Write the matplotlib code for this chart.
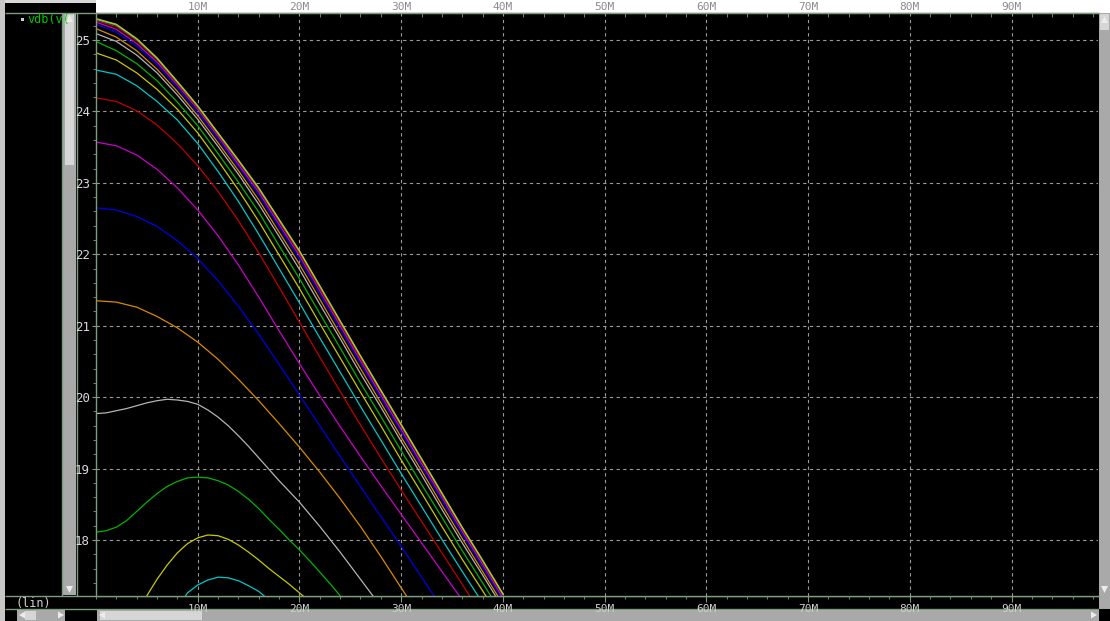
import numpy as np
import matplotlib
matplotlib.use("Agg")
import matplotlib.pyplot as plt
from matplotlib.patches import Rectangle, Polygon
from matplotlib.ticker import MultipleLocator, FixedLocator, FuncFormatter

# frequency grids in MHz
freq = list(range(0, 41, 2))
freq_fine = list(range(0, 41, 1))

# lower curves (1 MHz steps), dB
vdb_cyan_1 = [15.90, 15.92, 15.98, 16.08, 16.22, 16.40, 16.60, 16.85, 17.05, 17.26,
              17.37, 17.44, 17.48, 17.47, 17.43, 17.36, 17.28, 17.16, 17.05, 16.93,
              16.80, 16.68, 16.56, 16.44, 16.32, 16.20, 16.08, 15.96, 15.84, 15.72,
              15.60, 15.48, 15.36, 15.24, 15.12, 15.00, 14.88, 14.76, 14.64, 14.52, 14.40]
vdb_yellow_2 = [16.55, 16.58, 16.65, 16.78, 16.98, 17.22, 17.45, 17.65, 17.82, 17.95,
                18.03, 18.07, 18.06, 18.01, 17.93, 17.83, 17.72, 17.60, 17.49, 17.38,
                17.26, 17.14, 17.02, 16.90, 16.78, 16.66, 16.54, 16.42, 16.30, 16.18,
                16.06, 15.94, 15.82, 15.70, 15.58, 15.46, 15.34, 15.22, 15.10, 14.98, 14.86]
vdb_green_3 = [18.11, 18.13, 18.18, 18.27, 18.40, 18.53, 18.65, 18.75, 18.82, 18.87,
               18.88, 18.87, 18.83, 18.77, 18.68, 18.57, 18.44, 18.29, 18.15, 18.00,
               17.86, 17.71, 17.55, 17.39, 17.22, 17.06, 16.90, 16.74, 16.58, 16.42,
               16.26, 16.10, 15.94, 15.78, 15.62, 15.46, 15.30, 15.14, 14.98, 14.82, 14.66]
vdb_gray_4 = [19.77, 19.78, 19.81, 19.84, 19.88, 19.92, 19.95, 19.97, 19.96, 19.94,
              19.90, 19.82, 19.72, 19.60, 19.46, 19.31, 19.15, 18.99, 18.83, 18.68,
              18.53, 18.36, 18.19, 18.01, 17.83, 17.64, 17.45, 17.26, 17.07, 16.88,
              16.69, 16.50, 16.31, 16.12, 15.93, 15.74, 15.55, 15.36, 15.17, 14.98, 14.79]

# upper curves (2 MHz steps), dB
vdb_orange_5 = [21.35, 21.33, 21.26, 21.13, 20.97, 20.77, 20.53, 20.25, 19.95, 19.63, 19.30,
                18.95, 18.58, 18.19, 17.77, 17.33, 16.90, 16.48, 16.06, 15.64, 15.22]
vdb_blue_6 = [22.65, 22.62, 22.53, 22.39, 22.19, 21.94, 21.63, 21.27, 20.88, 20.46, 20.03,
              19.60, 19.17, 18.75, 18.33, 17.91, 17.48, 17.05, 16.62, 16.20, 15.78]
vdb_magenta_7 = [23.57, 23.52, 23.39, 23.19, 22.93, 22.62, 22.26, 21.85, 21.40, 20.93, 20.47,
                 20.02, 19.59, 19.17, 18.76, 18.36, 17.96, 17.56, 17.16, 16.76, 16.36]
vdb_red_8 = [24.19, 24.14, 24.01, 23.81, 23.55, 23.24, 22.88, 22.47, 22.02, 21.54, 21.05,
             20.56, 20.08, 19.61, 19.15, 18.70, 18.26, 17.82, 17.38, 16.94, 16.50]
vdb_cyan_9 = [24.58, 24.52, 24.36, 24.14, 23.88, 23.55, 23.16, 22.74, 22.28, 21.80, 21.32,
              20.83, 20.35, 19.87, 19.40, 18.93, 18.47, 18.01, 17.56, 17.12, 16.68]
vdb_yellow_10 = [24.82, 24.72, 24.54, 24.31, 24.03, 23.70, 23.31, 22.90, 22.46, 21.99, 21.52,
                 21.03, 20.55, 20.07, 19.60, 19.12, 18.66, 18.19, 17.73, 17.29, 16.84]
vdb_green_11 = [24.98, 24.85, 24.67, 24.43, 24.13, 23.80, 23.41, 23.01, 22.59, 22.12, 21.66,
                21.17, 20.69, 20.20, 19.73, 19.25, 18.78, 18.32, 17.85, 17.40, 16.95]
vdb_gray_12 = [25.09, 24.98, 24.79, 24.54, 24.23, 23.89, 23.51, 23.12, 22.70, 22.25, 21.79,
               21.30, 20.82, 20.33, 19.86, 19.38, 18.91, 18.43, 17.96, 17.51, 17.05]
vdb_orange_13 = [25.16, 25.04, 24.85, 24.59, 24.28, 23.94, 23.56, 23.17, 22.76, 22.31, 21.86,
                 21.37, 20.88, 20.40, 19.92, 19.44, 18.97, 18.49, 18.02, 17.56, 17.10]
vdb_blue_14 = [25.22, 25.11, 24.91, 24.65, 24.33, 23.98, 23.61, 23.23, 22.83, 22.38, 21.93,
               21.44, 20.95, 20.47, 19.99, 19.51, 19.03, 18.56, 18.08, 17.62, 17.16]
vdb_magenta_15 = [25.25, 25.15, 24.95, 24.69, 24.37, 24.03, 23.65, 23.26, 22.87, 22.42, 21.98,
                  21.49, 21.00, 20.51, 20.03, 19.55, 19.07, 18.60, 18.12, 17.66, 17.19]
vdb_red_16 = [25.27, 25.19, 24.99, 24.72, 24.39, 24.05, 23.67, 23.29, 22.90, 22.46, 22.01,
              21.52, 21.03, 20.54, 20.07, 19.59, 19.11, 18.63, 18.15, 17.69, 17.22]
vdb_cyan_17 = [25.29, 25.21, 25.01, 24.74, 24.41, 24.07, 23.69, 23.31, 22.92, 22.48, 22.04,
               21.55, 21.06, 20.57, 20.09, 19.61, 19.13, 18.65, 18.17, 17.71, 17.24]
vdb_yellow_18 = [25.30, 25.22, 25.02, 24.75, 24.42, 24.08, 23.70, 23.32, 22.93, 22.49, 22.05,
                 21.56, 21.07, 20.58, 20.10, 19.62, 19.14, 18.66, 18.18, 17.72, 17.25]

x_major = [10, 20, 30, 40, 50, 60, 70, 80, 90]
y_major = [18, 19, 20, 21, 22, 23, 24, 25]

CYAN, YELLOW, GREEN, GRAY = "#00c8c8", "#c8c800", "#00b400", "#b4b4b4"
ORANGE, BLUE, MAGENTA, RED = "#d88a00", "#0000e6", "#c800c8", "#c00000"

curves = [
    (freq_fine, vdb_cyan_1, CYAN), (freq_fine, vdb_yellow_2, YELLOW),
    (freq_fine, vdb_green_3, GREEN), (freq_fine, vdb_gray_4, GRAY),
    (freq, vdb_orange_5, ORANGE), (freq, vdb_blue_6, BLUE),
    (freq, vdb_magenta_7, MAGENTA), (freq, vdb_red_8, RED),
    (freq, vdb_cyan_9, CYAN), (freq, vdb_yellow_10, YELLOW),
    (freq, vdb_green_11, GREEN), (freq, vdb_gray_12, GRAY),
    (freq, vdb_orange_13, ORANGE), (freq, vdb_blue_14, BLUE),
    (freq, vdb_magenta_15, MAGENTA), (freq, vdb_red_16, RED),
    (freq, vdb_cyan_17, CYAN), (freq, vdb_yellow_18, YELLOW),
]

W, H = 1110, 621
AXIS_GREEN = "#7d9c7d"
SB_GRAY = "#a9a9a9"
SB_LIGHT = "#d6d6d6"
MONO = "DejaVu Sans Mono"

fig = plt.figure(figsize=(W / 100, H / 100), dpi=100, facecolor="black")

# window chrome drawn in pixel coordinates
frame = fig.add_axes([0, 0, 1, 1], zorder=0)
frame.set_xlim(0, W)
frame.set_ylim(H, 0)
frame.axis("off")

def rect(x0, y0, x1, y1, color, z=1):
    frame.add_patch(Rectangle((x0, y0), x1 - x0, y1 - y0, facecolor=color,
                              edgecolor="none", zorder=z))

def hline(y, x0, x1, color=AXIS_GREEN):
    frame.plot([x0, x1], [y, y], color=color, lw=1.0, solid_capstyle="butt", zorder=3)

def vline(x, y0, y1, color=AXIS_GREEN):
    frame.plot([x, x], [y0, y1], color=color, lw=1.0, solid_capstyle="butt", zorder=3)

def tri(pts, color="#ececec"):
    frame.add_patch(Polygon(pts, closed=True, facecolor=color, edgecolor="none", zorder=4))

rect(0, 0, W, 3, "#d8d8d8")
rect(96, 0, W, 13, "#ffffff")
rect(0, 0, 5, H, "#c8c8c8")

# left trace list panel
frame.add_patch(Rectangle((21, 18), 3, 3, facecolor="#d0d0d0", edgecolor="none", zorder=4))
frame.text(27, 20, "vdb(v(", color="#00c800", fontsize=8.5, family=MONO,
           va="center", ha="left", zorder=4)
rect(61, 13, 77, 596, "black", z=2)

# vertical scrollbar of the trace panel
rect(63, 14, 76, 595, SB_GRAY, z=3)
rect(65, 14, 74, 165, SB_LIGHT, z=3)
tri([(66, 22), (73, 22), (69.5, 15)])
tri([(66, 586), (73, 586), (69.5, 593)])
vline(62, 13, 596)
vline(76.5, 13, 596)

# right scrollbar
rect(1099, 13, W, 609, SB_GRAY, z=2)
rect(1100, 14, 1109, 30, SB_LIGHT, z=3)
tri([(1101, 23), (1108, 23), (1104.5, 16)])
tri([(1101, 586), (1108, 586), (1104.5, 593)])

# bottom scrollbars
hline(13, 5, 1099)
hline(596, 5, 1099)
hline(609, 5, W)
rect(5, 610, 96, H, "black", z=2)
rect(17, 610, 65, H, SB_GRAY, z=3)
rect(25, 611, 36, H - 1, SB_LIGHT, z=3)
tri([(19, 615), (25, 611.5), (25, 618.5)])
tri([(64, 615), (58, 611.5), (58, 618.5)])
rect(97, 610, 1099, H, SB_GRAY, z=3)
rect(100, 611, 202, H - 1, SB_LIGHT, z=3)
tri([(99, 615), (105, 611.5), (105, 618.5)])
tri([(1097, 615), (1091, 611.5), (1091, 618.5)])
rect(1099, 609, W, H, "black", z=3)
frame.text(15, 604, "(lin)", color="#d0d0d0", fontsize=8.5, family=MONO,
           va="center", ha="left", zorder=4)

# waveform axes
ax = fig.add_axes([96 / W, (H - 596) / H, (1098 - 96) / W, (596 - 13) / H], zorder=1)
ax.set_facecolor("black")
for fx, vals, col in curves:
    ax.plot(fx, vals, color=col, lw=0.9, solid_joinstyle="round")

ax.set_xlim(0, 98.5)
ax.set_ylim(17.216, 25.378)

mhz = FuncFormatter(lambda v, pos: f"{v:.0f}M")
ax.xaxis.set_major_locator(FixedLocator(x_major))
ax.xaxis.set_minor_locator(MultipleLocator(2))
ax.xaxis.set_major_formatter(mhz)
ax.yaxis.set_major_locator(FixedLocator(y_major))
ax.yaxis.set_minor_locator(MultipleLocator(0.2))
ax.yaxis.set_major_formatter(FuncFormatter(lambda v, pos: f"{v:.0f}"))

ax.grid(True, which="major", color="#9a9a9a", lw=0.8, ls=(0, (3, 3)))
ax.tick_params(axis="x", which="both", direction="out", color=AXIS_GREEN,
               labelcolor="#cfcfcf", labelsize=8, pad=1.5)
ax.tick_params(axis="x", which="major", length=4)
ax.tick_params(axis="x", which="minor", length=2.5)
ax.tick_params(axis="y", which="both", direction="out", color=AXIS_GREEN,
               labelcolor="#d8d8d8", labelsize=9, pad=1.5)
ax.tick_params(axis="y", which="major", length=3)
ax.tick_params(axis="y", which="minor", length=2.5)
for lbl in ax.get_xticklabels() + ax.get_yticklabels():
    lbl.set_family(MONO)

top = ax.secondary_xaxis("top")
top.xaxis.set_major_locator(FixedLocator(x_major))
top.xaxis.set_minor_locator(MultipleLocator(2))
top.xaxis.set_major_formatter(mhz)
top.tick_params(axis="x", which="both", direction="in", color=AXIS_GREEN,
                labelcolor="#8c8c8c", labelsize=8, pad=0.5)
top.tick_params(axis="x", which="major", length=0)
top.tick_params(axis="x", which="minor", length=3)
for lbl in top.get_xticklabels():
    lbl.set_family(MONO)
top.spines["top"].set_color(AXIS_GREEN)

for side in ("left", "bottom", "top", "right"):
    ax.spines[side].set_color(AXIS_GREEN)
    ax.spines[side].set_linewidth(1.0)
ax.spines["right"].set_visible(False)

fig.savefig("out.png", dpi=100, facecolor="black")
